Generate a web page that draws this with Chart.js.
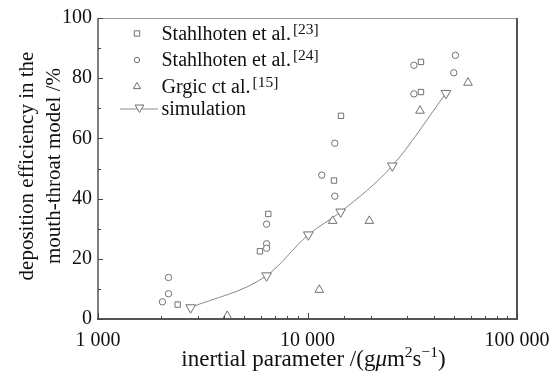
<!DOCTYPE html>
<html><head><meta charset="utf-8">
<script src="https://cdn.jsdelivr.net/npm/chart.js@4"></script>
<style>html,body{margin:0;padding:0;background:#fff}canvas{display:block}</style>
</head><body>
<canvas id="c" width="560" height="378"></canvas>
<script>
// ---- data ----
const stahl23X = [2400, 5930, 6500, 13380, 14450, 34800, 34800];
const stahl23Y = [4.8, 22.5, 34.9, 46.0, 67.5, 85.4, 75.4];
const stahl24X = [2030, 2170, 2170, 6380, 6380, 6380, 11700, 13500, 13500, 32200, 32200, 50800, 49900];
const stahl24Y = [5.7, 8.4, 13.8, 31.5, 25.0, 23.5, 47.8, 40.8, 58.4, 84.3, 74.8, 87.6, 81.8];
const grgicX = [4140, 11380, 13180, 19730, 34430, 58340];
const grgicY = [1.0, 9.7, 32.6, 32.6, 69.2, 78.5];
const simX = [2770, 6380, 10090, 14400, 25400, 45800];
const simY = [3.8, 14.4, 28.0, 35.6, 50.9, 75.0];
const xMajorTicks = [1000, 10000, 100000];
const xMajorLabels = ['1 000', '10 000', '100 000'];
const legendNames = ['Stahlhoten et al.', 'Stahlhoten et al.', 'Grgic ct al.', 'simulation'];
const legendRefs = ['[23]', '[24]', '[15]', ''];
const yTitleLines = ['deposition efficiency in the', 'mouth-throat model /%'];

const FONT = '"Liberation Serif", "Times New Roman", serif';
const MARK = '#707070';
const pts = (xs, ys) => xs.map((v, i) => ({x: v, y: ys[i]}));

function seg(ctx, x1, y1, x2, y2, col, w) {
  ctx.strokeStyle = col; ctx.lineWidth = w;
  ctx.beginPath(); ctx.moveTo(x1, y1); ctx.lineTo(x2, y2); ctx.stroke();
}
function mark(ctx, kind, cx, cy, r) {
  ctx.beginPath();
  if (kind === 'rect') { ctx.rect(cx - r, cy - r, 2 * r, 2 * r); }
  else if (kind === 'circle') { ctx.arc(cx, cy, r, 0, Math.PI * 2); }
  else if (kind === 'up') { ctx.moveTo(cx, cy - r); ctx.lineTo(cx + r * 0.866, cy + r * 0.5); ctx.lineTo(cx - r * 0.866, cy + r * 0.5); ctx.closePath(); }
  else { ctx.moveTo(cx, cy + r); ctx.lineTo(cx + r * 0.866, cy - r * 0.5); ctx.lineTo(cx - r * 0.866, cy - r * 0.5); ctx.closePath(); }
  ctx.fillStyle = '#fff'; ctx.fill();
  ctx.strokeStyle = MARK; ctx.lineWidth = 1; ctx.stroke();
}

const decor = {
  id: 'decor',
  afterDraw(chart) {
    const {ctx, chartArea: a, scales: {x, y}} = chart;
    ctx.save();
    // frame
    seg(ctx, a.left, a.top + 0.5, a.right, a.top + 0.5, '#9a9a9a', 1);
    seg(ctx, a.right, a.top, a.right, a.bottom + 1, '#555', 2);
    seg(ctx, a.left, a.top, a.left, a.bottom + 1, '#555', 1.5);
    seg(ctx, a.left - 1, a.bottom, a.right + 1, a.bottom, '#555', 2);
    // inward tick marks
    x.ticks.forEach(t => {
      const px = Math.round(x.getPixelForValue(t.value)) + 0.5;
      const major = xMajorTicks.includes(t.value);
      seg(ctx, px, a.bottom, px, a.bottom - (major ? 6 : 3), '#444', 1);
    });
    const yv = y.ticks.map(t => t.value);
    yv.forEach((v, i) => {
      const py = Math.round(y.getPixelForValue(v)) + 0.5;
      seg(ctx, a.left, py, a.left + 5, py, '#444', 1);
      if (i < yv.length - 1) {
        const pm = Math.round(y.getPixelForValue((v + yv[i + 1]) / 2)) + 0.5;
        seg(ctx, a.left, pm, a.left + 3, pm, '#444', 1);
      }
    });
    // legend
    const rows = [39.5, 66, 92.5, 114.5];
    const kinds = ['rect', 'circle', 'up', 'down'];
    const sizes = [2.7, 2.7, 4.2, 5.0];
    rows.forEach((b, i) => {
      const cy = b - 6;
      if (kinds[i] === 'down') {
        seg(ctx, 120, cy + 0.5, 158, cy + 0.5, '#888', 1);
        mark(ctx, 'down', 139.5, cy - 1, sizes[i]);
      } else {
        mark(ctx, kinds[i], 137, cy, sizes[i]);
      }
      ctx.fillStyle = '#111';
      ctx.textBaseline = 'alphabetic'; ctx.textAlign = 'left';
      ctx.font = '20px ' + FONT;
      ctx.fillText(legendNames[i], 161.5, b);
      if (legendRefs[i]) {
        const w = ctx.measureText(legendNames[i]).width;
        ctx.font = '15.5px ' + FONT;
        ctx.fillText(legendRefs[i], 161.5 + w + 2, b - 6);
      }
    });
    // x title with superscripts
    ctx.fillStyle = '#111';
    const parts = [
      ['inertial parameter /(g', '23px', 0],
      ['\u03bc', 'italic 23px', 0],
      ['m', '23px', 0],
      ['2', '15.5px', -9],
      ['s', '23px', 0],
      ['\u22121', '15.5px', -9],
      [')', '23px', 0]
    ];
    let tw = 0;
    parts.forEach(p => { ctx.font = p[1] + ' ' + FONT; tw += ctx.measureText(p[0]).width; });
    let xx = 313.5 - tw / 2;
    parts.forEach(p => {
      ctx.font = p[1] + ' ' + FONT;
      ctx.fillText(p[0], xx, 366 + p[2]);
      xx += ctx.measureText(p[0]).width;
    });
    // y title (two lines)
    ctx.font = '21px ' + FONT;
    ctx.textAlign = 'center';
    [[33, yTitleLines[0]], [60, yTitleLines[1]]].forEach(([bx, s]) => {
      ctx.save(); ctx.translate(bx, 166); ctx.rotate(-Math.PI / 2);
      ctx.fillText(s, 0, 0); ctx.restore();
    });
    ctx.restore();
  }
};

const base = {showLine: false, borderColor: MARK, backgroundColor: '#fff', borderWidth: 1, pointBorderWidth: 1, pointHoverRadius: 0, clip: false};
new Chart(document.getElementById('c'), {
  type: 'scatter',
  data: {
    datasets: [
      Object.assign({label: 'Stahlhoten et al.[23]', data: pts(stahl23X, stahl23Y), pointStyle: 'rect', pointRadius: 3.8}, base),
      Object.assign({label: 'Stahlhoten et al.[24]', data: pts(stahl24X, stahl24Y), pointStyle: 'circle', pointRadius: 3.2}, base),
      Object.assign({label: 'Grgic ct al.[15]', data: pts(grgicX, grgicY), pointStyle: 'triangle', pointRadius: 5}, base),
      Object.assign({}, base, {label: 'simulation', data: pts(simX, simY), pointStyle: 'triangle', pointRotation: 180, pointRadius: 5.6,
        showLine: true, borderColor: '#888', pointBorderColor: MARK, cubicInterpolationMode: 'monotone'})
    ]
  },
  options: {
    responsive: false, animation: false, devicePixelRatio: 1,
    layout: {padding: {top: 13, right: 43, left: 0, bottom: 0}},
    plugins: {legend: {display: false}, tooltip: {enabled: false}},
    scales: {
      x: {
        type: 'logarithmic', min: 1000, max: 100000,
        grid: {display: false, drawTicks: false}, border: {display: false},
        afterFit: s => { s.height = 59; },
        ticks: {
          autoSkip: false, maxRotation: 0, padding: 10, color: '#111',
          font: {family: FONT, size: 20},
          callback: v => { const i = xMajorTicks.indexOf(v); return i >= 0 ? xMajorLabels[i] : ''; }
        }
      },
      y: {
        min: 0, max: 100,
        grid: {display: false, drawTicks: false}, border: {display: false},
        afterFit: s => { s.width = 98; },
        ticks: {stepSize: 20, padding: 6, color: '#111', font: {family: FONT, size: 20}}
      }
    }
  },
  plugins: [decor]
});
</script>
</body></html>
